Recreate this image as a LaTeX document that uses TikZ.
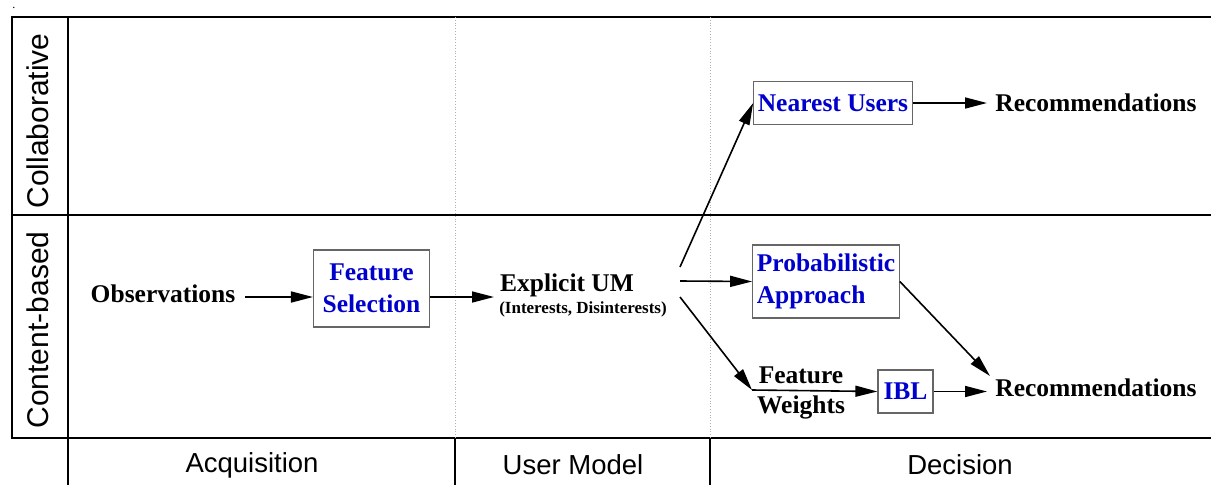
\documentclass[tikz,border=0pt]{standalone}
\usepackage{fontspec}
\setmainfont{Liberation Serif}
\newfontfamily\lanefont{Liberation Sans}
\usetikzlibrary{arrows.meta}
\definecolor{boxblue}{RGB}{0,0,205}
\begin{document}
\begin{tikzpicture}[
  x=1pt, y=-1pt,
  txt/.style={font=\fontsize{25.5}{32}\selectfont\bfseries, inner sep=2pt},
  bx/.style={txt, draw=gray!80!black, line width=1.3pt, text=boxblue, minimum height=43pt},
  lane/.style={font=\lanefont\fontsize{27.5}{30}\selectfont, inner sep=0pt},
  vlane/.style={lane, font=\lanefont\fontsize{30}{32}\selectfont, rotate=90},
  flow/.style={line width=1.6pt, -{Triangle[length=22pt,width=11pt]}},
  grid/.style={line width=1.3pt},
  sep/.style={gray!60, dotted, line width=0.8pt}
]
\useasboundingbox (0,0) rectangle (1211,485);
\node [font=\fontsize{12}{12}\selectfont, inner sep=0pt, anchor=base] (dot) at (14,8) {.};

% frame
\draw [grid] (1211,17) -- (12,17) -- (12,438) -- (1211,438);
\draw [grid] (12,215) -- (1211,215);
\draw [grid] (68,17) -- (68,485);
\draw [grid] (455,438) -- (455,485);
\draw [grid] (710,438) -- (710,485);
\draw [sep] (455,17) -- (455,438);
\draw [sep] (710,17) -- (710,438);

% lane labels
\node [vlane] (collab) at (38,121) {Collaborative};
\node [vlane] (content) at (38,330) {Content-based};
\node [lane] (acq) at (252,465) {Acquisition};
\node [lane] (usermodel) at (573,465) {User Model};
\node [lane] (decision) at (960,465) {Decision};

% nodes
\node [txt] (obs) at (163,294) {Observations};
\node [bx, align=center, inner xsep=9pt, minimum height=77pt] (fsel) at (371.5,288.5) {Feature\\Selection};
\node [txt] (um) at (567,285) {Explicit UM};
\node [txt, font=\fontsize{17}{20}\selectfont\bfseries] (umsub) at (583,309) {(Interests, Disinterests)};
\coordinate (um1) at (680,267);
\coordinate (um2) at (680,281);
\coordinate (um3) at (680,297);

\node [bx, inner xsep=4pt] (nu) at (833,103) {Nearest Users};
\node [txt] (reco1) at (1096,103) {Recommendations};
\node [bx, align=left, inner xsep=4pt, minimum height=73pt] (pa) at (826,281.5) {Probabilistic\\Approach};
\coordinate (fwin) at (752,390);
\node [txt] (fwtop) at (801,375) {Feature};
\node [txt] (fwbot) at (801,407) {Weights};
\node [bx, inner xsep=5.5pt] (ibl) at (905.5,391.5) {IBL};
\node [txt] (reco2) at (1096,388) {Recommendations};
\coordinate (reco2in) at (990,376);

% connectors
\draw [flow] (obs) ++(82,3) -- (fsel.west |- 0,297);
\draw [flow] (fsel.east |- 0,297) -- (494,297);
\draw [flow] (um1) -- (nu.west);
\draw [flow] (um2) -- (pa.west);
\draw [flow] (um3) -- (fwin);
\draw [flow] (fwin) -- (ibl.west);
\draw [flow] (nu.east) -- (987,103);
\draw [flow] (pa.east) -- (reco2in);
\draw [flow] (ibl.east) -- (987,391.5);
\end{tikzpicture}
\end{document}
